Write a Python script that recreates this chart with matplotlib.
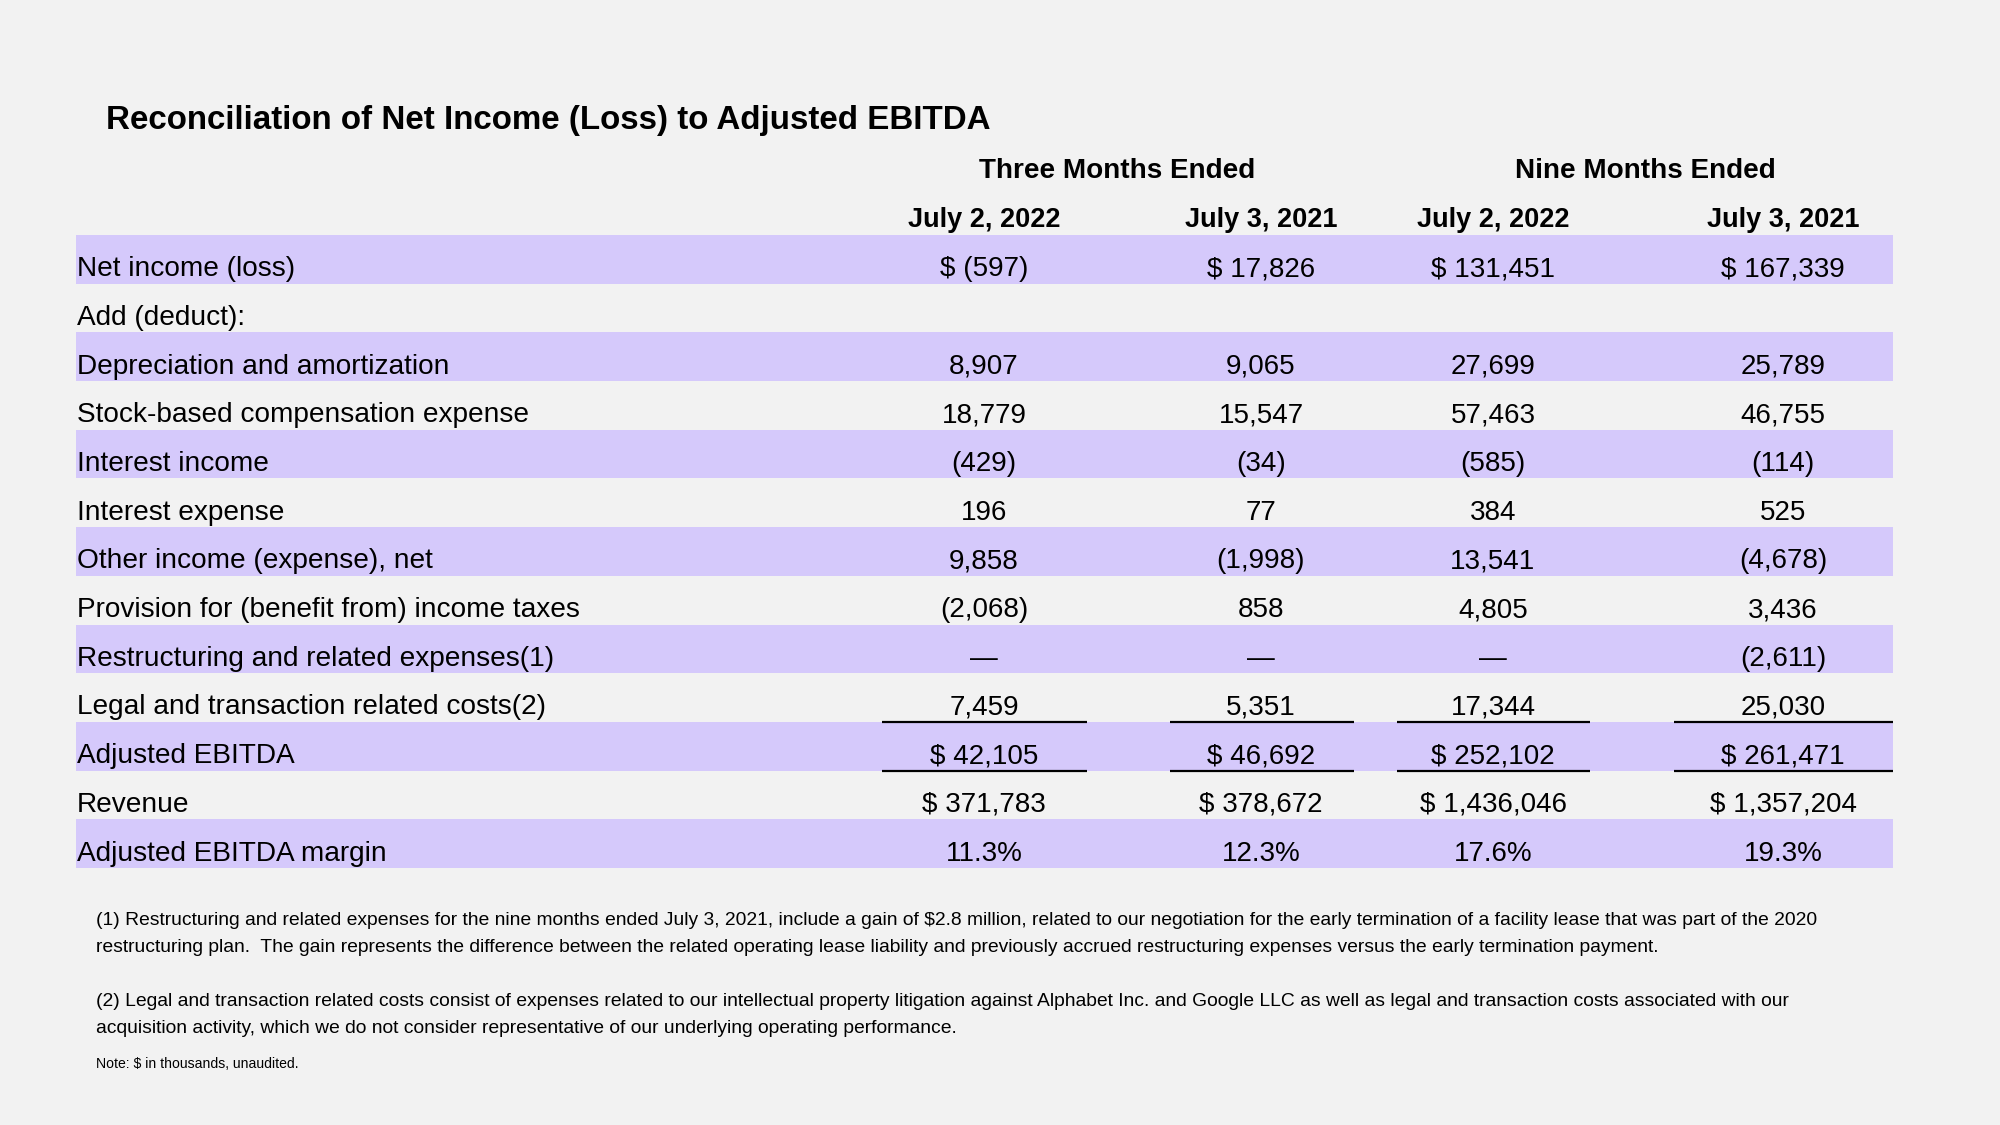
import matplotlib
matplotlib.use("Agg")
import matplotlib.pyplot as plt

plt.rcParams['font.family'] = ['Liberation Sans', 'DejaVu Sans']
plt.rcParams['text.parse_math'] = False

# ---- data ----
title = "Reconciliation of Net Income (Loss) to Adjusted EBITDA"
period_headers = ["Three Months Ended", "Nine Months Ended"]
date_headers = ["July 2, 2022", "July 3, 2021", "July 2, 2022", "July 3, 2021"]
row_labels = [
    "Net income (loss)",
    "Add (deduct):",
    "Depreciation and amortization",
    "Stock-based compensation expense",
    "Interest income",
    "Interest expense",
    "Other income (expense), net",
    "Provision for (benefit from) income taxes",
    "Restructuring and related expenses(1)",
    "Legal and transaction related costs(2)",
    "Adjusted EBITDA",
    "Revenue",
    "Adjusted EBITDA margin",
]
col_three_2022 = ["$ (597)", "", "8,907", "18,779", "(429)", "196", "9,858", "(2,068)", "—", "7,459", "$ 42,105", "$ 371,783", "11.3%"]
col_three_2021 = ["$ 17,826", "", "9,065", "15,547", "(34)", "77", "(1,998)", "858", "—", "5,351", "$ 46,692", "$ 378,672", "12.3%"]
col_nine_2022 = ["$ 131,451", "", "27,699", "57,463", "(585)", "384", "13,541", "4,805", "—", "17,344", "$ 252,102", "$ 1,436,046", "17.6%"]
col_nine_2021 = ["$ 167,339", "", "25,789", "46,755", "(114)", "525", "(4,678)", "3,436", "(2,611)", "25,030", "$ 261,471", "$ 1,357,204", "19.3%"]
shaded_rows = [0, 2, 4, 6, 8, 10, 12]
footnote1 = ["(1) Restructuring and related expenses for the nine months ended July 3, 2021, include a gain of $2.8 million, related to our negotiation for the early termination of a facility lease that was part of the 2020",
             "restructuring plan.  The gain represents the difference between the related operating lease liability and previously accrued restructuring expenses versus the early termination payment."]
footnote2 = ["(2) Legal and transaction related costs consist of expenses related to our intellectual property litigation against Alphabet Inc. and Google LLC as well as legal and transaction costs associated with our",
             "acquisition activity, which we do not consider representative of our underlying operating performance."]
note = "Note: $ in thousands, unaudited."

# ---- layout ----
BG = "#F2F2F2"
BAND = "#D5C9FB"
W, H = 2000, 1125
fig = plt.figure(figsize=(20, 11.25), dpi=100, facecolor=BG)
ax = fig.add_axes([0, 0, 1, 1])
ax.set_xlim(0, W)
ax.set_ylim(H, 0)
ax.axis("off")
ax.set_facecolor(BG)

top = 235.0
rh = 48.7
left, right = 76, 1893
col_x = [984, 1261, 1493, 1783]
period_x = [1117, 1645]
ul_extent = [(882, 1087), (1170, 1354), (1397, 1590), (1674, 1893)]

label_fs = 20.2
num_fs = 20.0
ax.text(106, 129, title, fontsize=23.9, fontweight="bold", va="baseline", ha="left")
for px, ph in zip(period_x, period_headers):
    ax.text(px, 178, ph, fontsize=20.1, fontweight="bold", ha="center", va="baseline")
for x, d in zip(col_x, date_headers):
    ax.text(x, 227, d, fontsize=19.5, fontweight="bold", ha="center", va="baseline")

centers = [top + rh * (i + 0.5) for i in range(len(row_labels))]
ax.barh([centers[i] for i in shaded_rows], [right - left] * len(shaded_rows), left=left,
        height=rh, color=BAND, linewidth=0)

cols = [col_three_2022, col_three_2021, col_nine_2022, col_nine_2021]
for i, lab in enumerate(row_labels):
    base = top + rh * (i + 1) - 7.5
    ax.text(77, base, lab, fontsize=label_fs, ha="left", va="baseline")
    for x, col in zip(col_x, cols):
        if col[i]:
            ax.text(x, base, col[i], fontsize=num_fs, ha="center", va="baseline")

for yb in [top + rh * 10, top + rh * 11]:
    for (x0, x1) in ul_extent:
        ax.plot([x0, x1], [yb, yb], color="black", lw=1.6, solid_capstyle="butt")

fn_fs = 13.9
for j, line in enumerate(footnote1):
    ax.text(96, 925 + 27 * j, line, fontsize=fn_fs, ha="left", va="baseline")
for j, line in enumerate(footnote2):
    ax.text(96, 1006 + 27 * j, line, fontsize=fn_fs, ha="left", va="baseline")
ax.text(96, 1068, note, fontsize=10.1, ha="left", va="baseline")

fig.savefig("out.png", dpi=100, facecolor=BG)
